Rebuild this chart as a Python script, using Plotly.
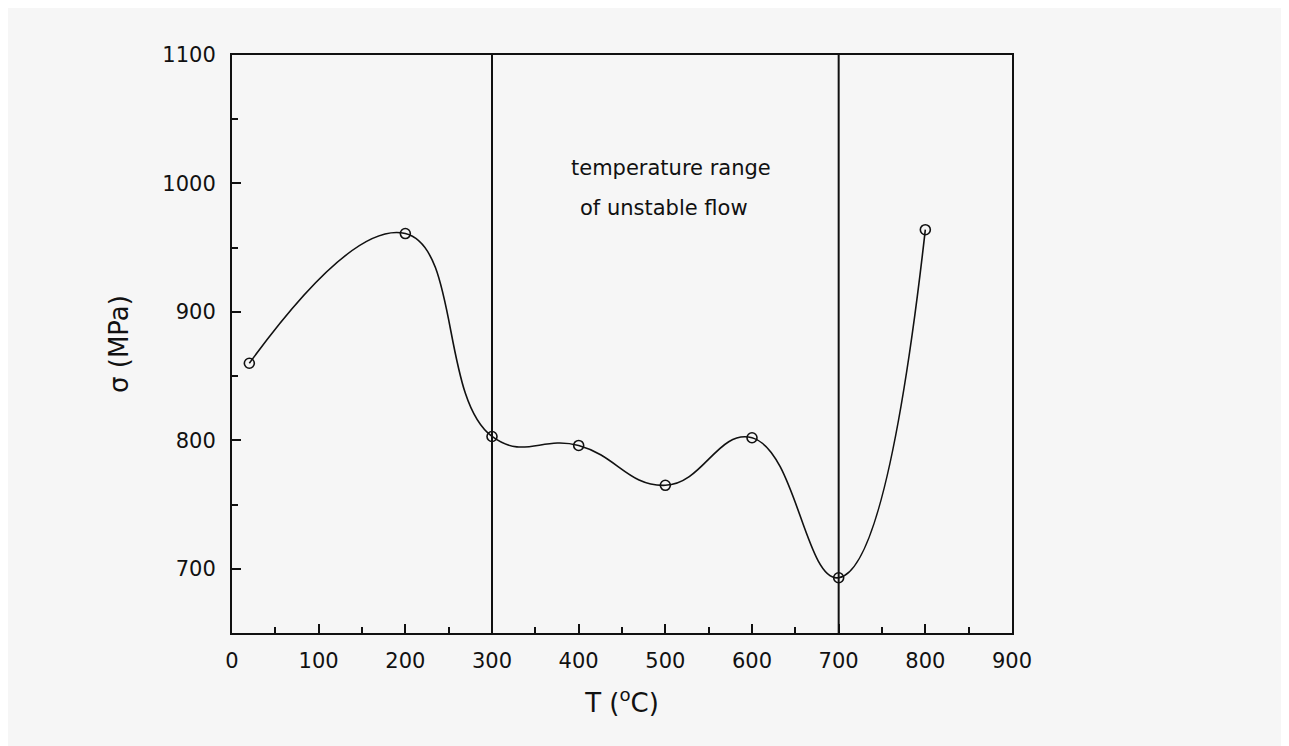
import plotly.graph_objects as go

# Data
T_C = [20, 200, 300, 400, 500, 600, 700, 800]
sigma_MPa = [860, 961, 803, 796, 765, 802, 693, 964]
unstable_range = [300, 700]
x_ticks = [0, 100, 200, 300, 400, 500, 600, 700, 800, 900]
y_ticks = [700, 800, 900, 1000, 1100]
note_lines = ["temperature range", "of unstable flow"]
note_x = [507, 498]
note_y = [1012, 981]

FONT = "DejaVu Sans"
INK = "#111111"
BG = "#f6f6f6"

fig = go.Figure()
fig.add_trace(go.Scatter(
    x=T_C, y=sigma_MPa,
    mode="lines+markers",
    line=dict(color=INK, width=1.6, shape="spline", smoothing=1.3),
    marker=dict(symbol="circle-open", size=10, color=INK, line=dict(width=1.6)),
    showlegend=False,
))

for xv in unstable_range:
    fig.add_shape(type="line", xref="x", yref="paper", x0=xv, x1=xv, y0=0, y1=1,
                  line=dict(color=INK, width=2))

for txt, xv, yv in zip(note_lines, note_x, note_y):
    fig.add_annotation(x=xv, y=yv, xref="x", yref="y", text=txt, showarrow=False,
                       font=dict(family=FONT, size=21, color=INK), align="center")

axis_common = dict(
    showgrid=False, zeroline=False, showline=True, mirror=True,
    linecolor=INK, linewidth=2, ticks="inside", ticklen=9, tickwidth=2,
    tickcolor=INK, tickfont=dict(family=FONT, size=21, color=INK),
)

fig.update_xaxes(
    range=[0, 900], tickvals=x_ticks, ticklabelstandoff=8,
    minor=dict(dtick=50, ticks="inside", ticklen=6, tickwidth=1.5, tickcolor=INK),
    title=dict(text="T (<sup>o</sup>C)", font=dict(family=FONT, size=26, color=INK), standoff=22),
    **axis_common,
)
fig.update_yaxes(
    range=[650, 1100], tickvals=y_ticks, ticklabelstandoff=10,
    minor=dict(dtick=50, ticks="inside", ticklen=6, tickwidth=1.5, tickcolor=INK),
    title=dict(text="σ (MPa)", font=dict(family=FONT, size=26, color=INK), standoff=26),
    **axis_common,
)

fig.update_layout(
    width=1289, height=746,
    margin=dict(l=224, r=285, t=47, b=121),
    paper_bgcolor=BG, plot_bgcolor=BG,
    font=dict(family=FONT, color=INK),
)

fig.write_html("out.html")
